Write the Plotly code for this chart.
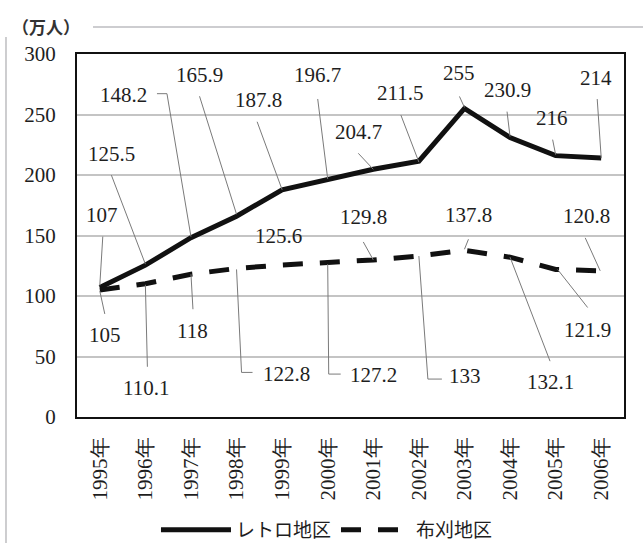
import plotly.graph_objects as go

# Visitor numbers (10,000 persons), 1995-2006
years = ["1995年", "1996年", "1997年", "1998年", "1999年", "2000年",
         "2001年", "2002年", "2003年", "2004年", "2005年", "2006年"]
retro = [107, 125.5, 148.2, 165.9, 187.8, 196.7, 204.7, 211.5, 255, 230.9, 216, 214]
mekari = [105, 110.1, 118, 122.8, 125.6, 127.2, 129.8, 133, 137.8, 132.1, 121.9, 120.8]
series_names = ["レトロ地区", "布刈地区"]
y_ticks = [0, 50, 100, 150, 200, 250, 300]
unit_label = "（万人）"

# Label placement per point: text offset (dx, dy) in screen pixels and the
# leader-line polyline (screen-pixel offsets from the point), or None.
retro_labels = [
    ((2, -73), [(0, -2), (3, -51)]),
    ((-34, -111), [(0, -1), (-34, -90)]),
    ((-67, -143), [(0, -1), (-24, -144), (-34, -144)]),
    ((-37, -141), [(0, -2), (-37, -120)]),
    ((-24, -90), [(0, 0), (-25, -68)]),
    ((-10, -104), [(0, 0), (-10, -80)]),
    ((-15, -37), [(0, 0), (-15, -16)]),
    ((-19, -68), [(0, 1), (-18, -46)]),
    ((-5, -35), [(0, -1), (-5, -12)]),
    ((-3, -48), [(0, -1), (-3, -26)]),
    ((-4, -38), [(0, -1), (-3, -16)]),
    ((-5, -80), [(0, 0), (-4, -59)]),
]
mekari_labels = [
    ((5, 45), [(0, 1), (5, 24)]),
    ((1, 104), [(0, 1), (2, 83)]),
    ((2, 57), [(0, 0), (2, 35)]),
    ((50, 106), [(0, 1), (5, 104), (16, 104)]),
    ((-4, -29), None),
    ((46, 112), [(0, 1), (1, 111), (13, 111)]),
    ((-10, -43), [(0, 0), (-10, -18)]),
    ((46, 120), [(0, 0), (9, 123), (23, 123)]),
    ((4, -35), [(0, -1), (4, -11)]),
    ((40, 125), [(0, 0), (40, 104)]),
    ((32, 60), [(2, 0), (32, 38)]),
    ((-15, -55), [(-1, 0), (-16, -33)]),
]

serif = "Liberation Serif"
ink = "#1e1e1e"
x_idx = list(range(len(years)))

fig = go.Figure()
fig.add_trace(go.Scatter(
    x=x_idx, y=retro, name=series_names[0], mode="lines",
    line=dict(color="#111111", width=5),
))
fig.add_trace(go.Scatter(
    x=x_idx, y=mekari, name=series_names[1], mode="lines",
    line=dict(color="#111111", width=5, dash="20px,17px"),
))

annotations = []
shapes = []
for values, labels in ((retro, retro_labels), (mekari, mekari_labels)):
    for i, (v, (offset, leader)) in enumerate(zip(values, labels)):
        dx, dy = offset
        annotations.append(dict(
            x=i, y=v, xref="x", yref="y", text=f"{v:g}", showarrow=False,
            xshift=dx, yshift=-dy, font=dict(family=serif, size=21, color=ink),
        ))
        if leader:
            path = "M" + " L".join(f"{px},{-py}" for px, py in leader)
            shapes.append(dict(
                type="path", xref="x", yref="y", xsizemode="pixel",
                ysizemode="pixel", xanchor=i, yanchor=v, path=path,
                line=dict(color="#7a7a7a", width=1),
            ))

# Unit caption and the frame rules around the figure
annotations.append(dict(
    x=-0.1225, y=1.0746, xref="paper", yref="paper", xanchor="left",
    yanchor="middle", text=f"<b>{unit_label}</b>", showarrow=False,
    font=dict(family="Noto Sans CJK JP", size=17, color="#333333"),
))
shapes.append(dict(type="line", xref="paper", yref="paper",
                   x0=0.02925, x1=1.04, y0=1.0746, y1=1.0746,
                   line=dict(color="#bdbdc0", width=1.5)))
shapes.append(dict(type="line", xref="paper", yref="paper",
                   x0=-0.1298, x1=-0.1298, y0=1.047, y1=-0.36,
                   line=dict(color="#bdbdc0", width=1.5)))

fig.update_layout(
    width=643, height=543,
    margin=dict(l=77, r=19, t=54, b=126, autoexpand=False),
    paper_bgcolor="white", plot_bgcolor="white",
    annotations=annotations, shapes=shapes,
    showlegend=True,
    legend=dict(
        orientation="h", x=0.457, xanchor="center",
        yref="container", y=0.024, yanchor="middle",
        font=dict(family="Noto Sans CJK JP", size=19, color=ink),
        itemwidth=70, bgcolor="rgba(0,0,0,0)",
    ),
)
fig.update_xaxes(
    range=[-0.5, 11.5], tickmode="array", tickvals=x_idx, ticktext=years,
    tickangle=-90, showgrid=False, zeroline=False, ticks="",
    showline=True, linecolor="#111111", linewidth=2, mirror=True,
    tickfont=dict(family=serif, size=21, color=ink), ticklabelstandoff=10,
)
fig.update_yaxes(
    range=[0, 300], tickmode="array", tickvals=y_ticks,
    showgrid=True, gridcolor="#c4c4c4", gridwidth=1.5, zeroline=False, ticks="",
    showline=True, linecolor="#111111", linewidth=2, mirror=True,
    tickfont=dict(family=serif, size=21, color=ink), ticklabelstandoff=15,
)

fig.write_html("out.html")
